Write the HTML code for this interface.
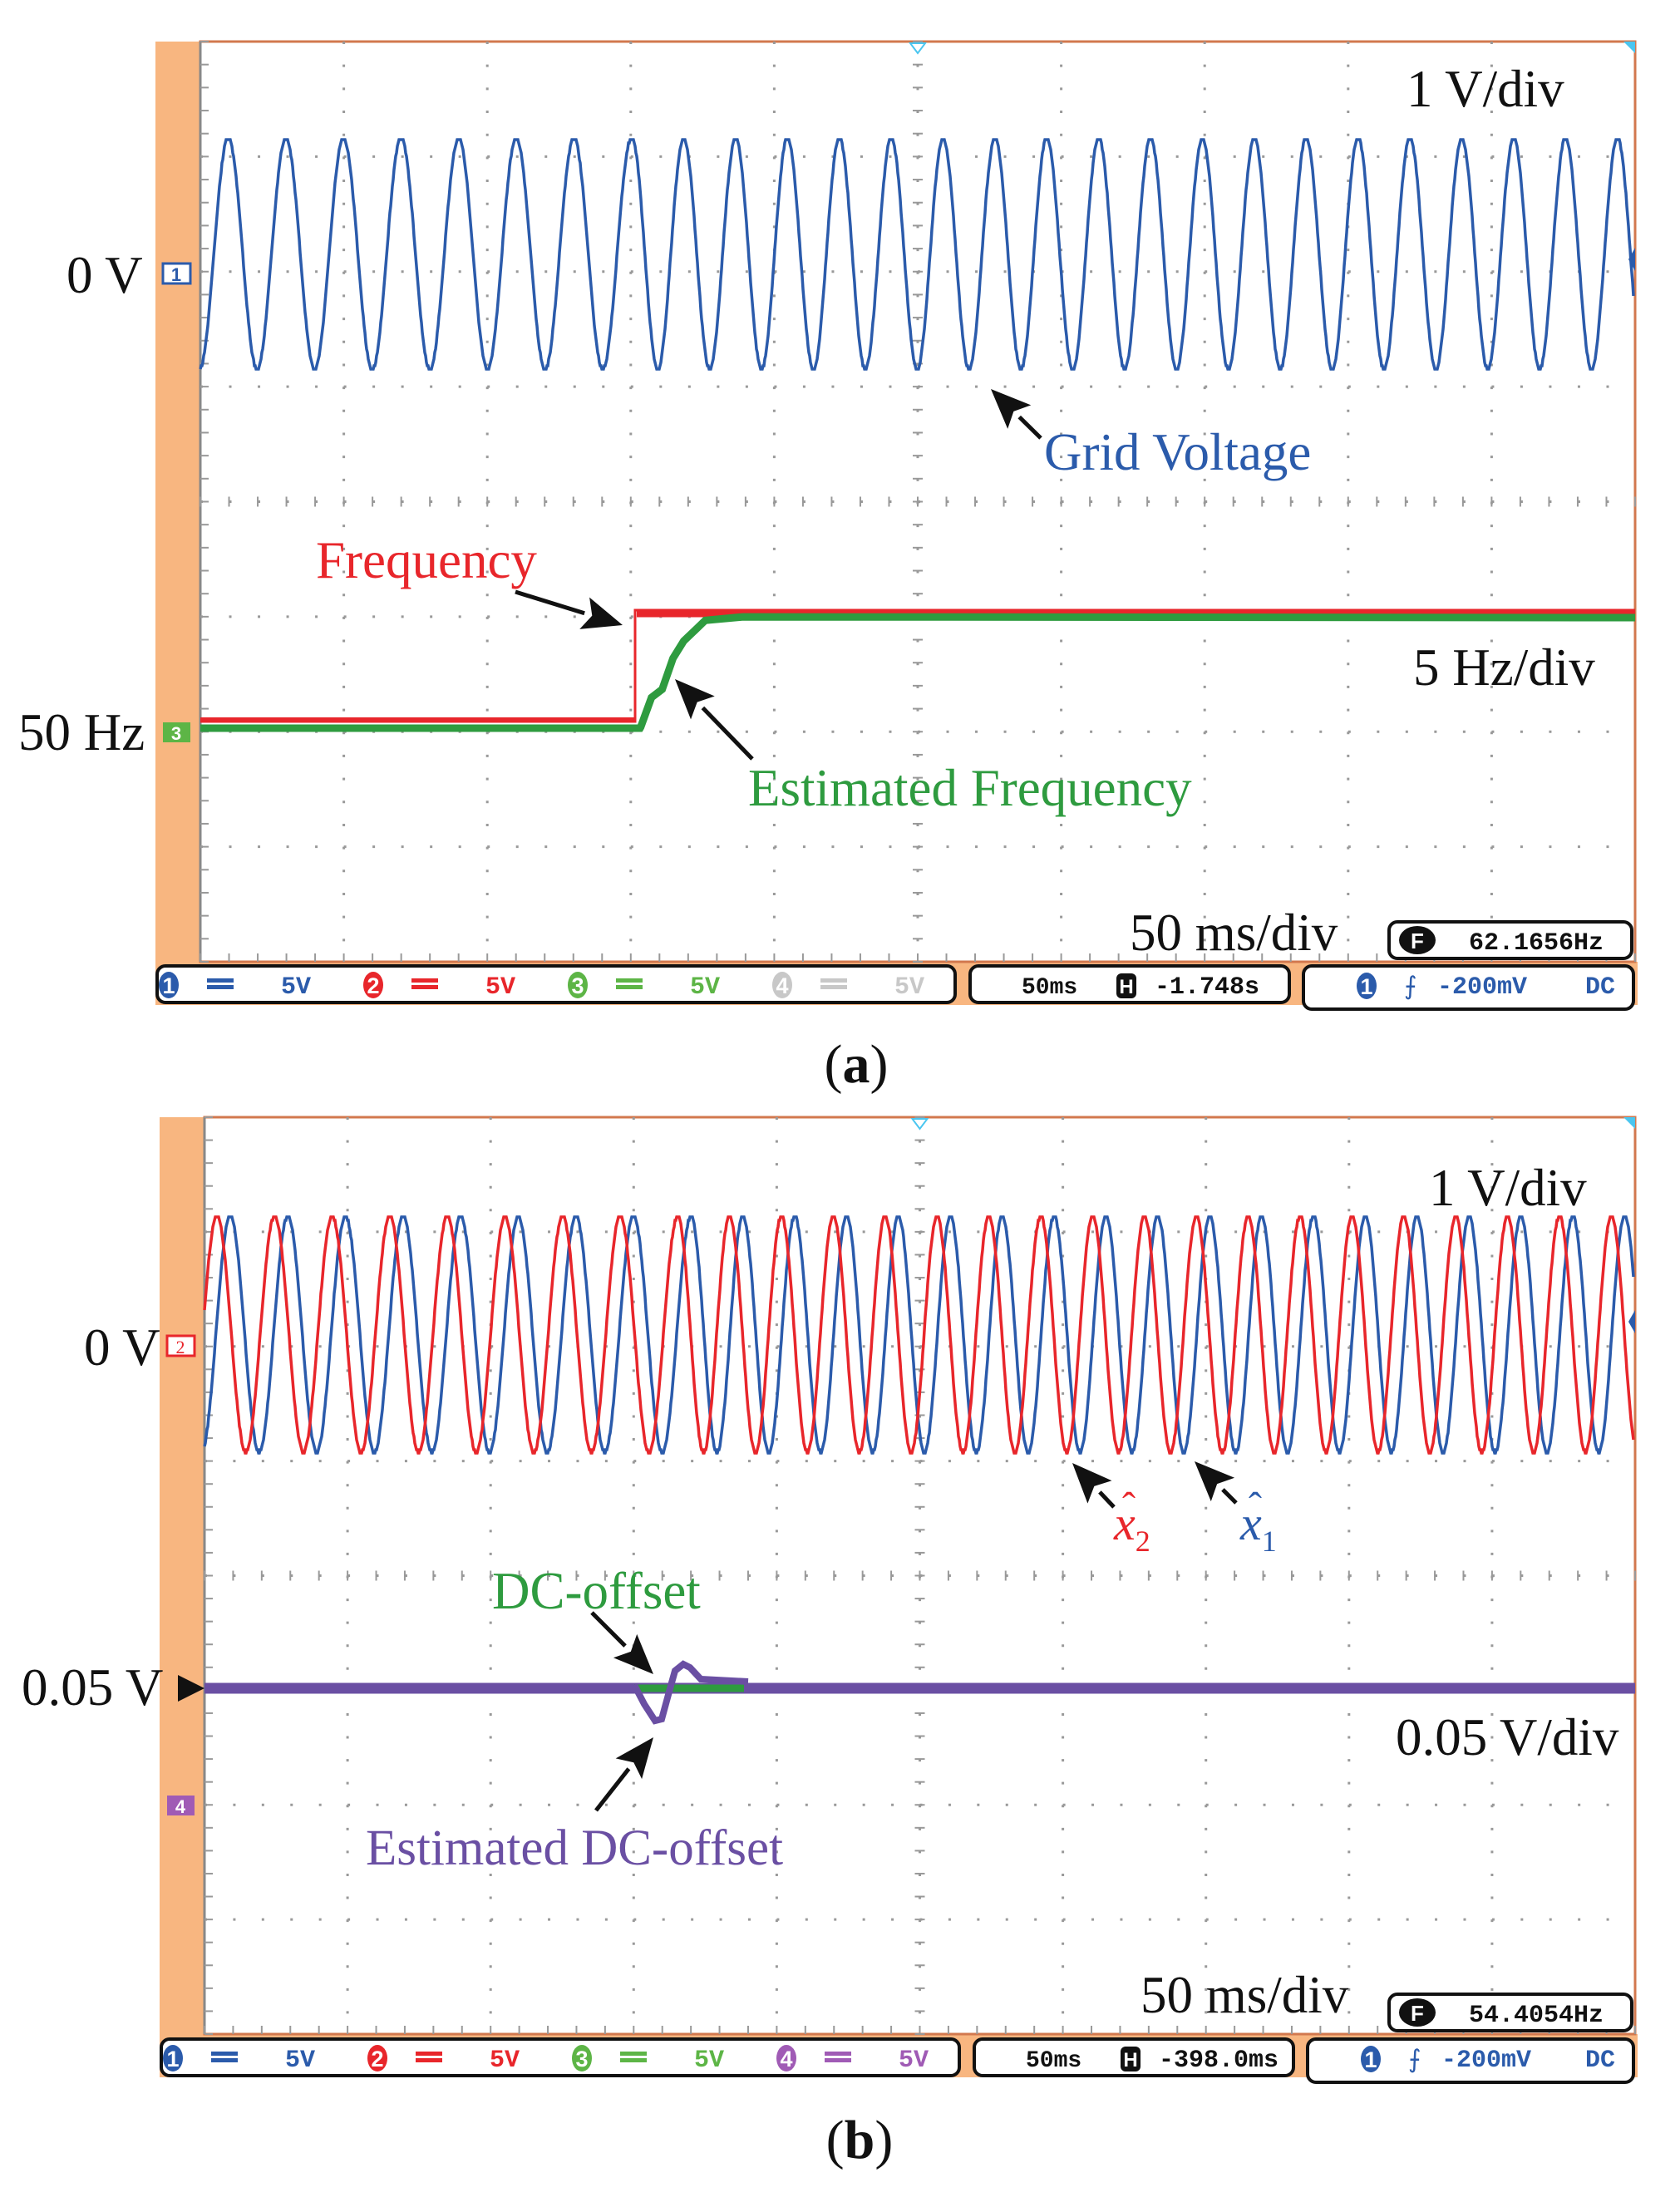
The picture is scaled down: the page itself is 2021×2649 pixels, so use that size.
<!DOCTYPE html>
<html><head><meta charset="utf-8">
<style>
html,body{margin:0;padding:0;background:#fff;}
body{width:2021px;height:2649px;position:relative;overflow:hidden;}
svg{position:absolute;left:0;top:0;}
</style></head>
<body>
<svg id="s" width="2021" height="2649" viewBox="0 0 2021 2649" xmlns="http://www.w3.org/2000/svg">
<g id="g"></g>
</svg>
<script>
var g=document.getElementById('g');var out='';
function panel(L,T,R,B,oL){
  var w=R-L,h=B-T,dx=w/10,dy=h/8;
  out+='<rect x="'+oL+'" y="'+T+'" width="'+(L-oL)+'" height="'+(B-T+52)+'" fill="#f8b680"/>';
  out+='<rect x="'+oL+'" y="'+(B)+'" width="'+(R-oL+3)+'" height="52" fill="#f8b680"/>';
  out+='<rect x="'+L+'" y="'+T+'" width="'+w+'" height="'+h+'" fill="#fff" stroke="#d2784e" stroke-width="3"/>';
  out+='<line x1="'+L+'" y1="'+T+'" x2="'+L+'" y2="'+B+'" stroke="#888" stroke-width="3"/>';
  for(var i=1;i<10;i++){var x=L+i*dx;out+='<line x1="'+x+'" y1="'+T+'" x2="'+x+'" y2="'+B+'" stroke="#999" stroke-width="3" stroke-dasharray="3 '+(dy/5-3)+'"/>';}
  for(var j=1;j<8;j++){var y=T+j*dy;out+='<line x1="'+L+'" y1="'+y+'" x2="'+R+'" y2="'+y+'" stroke="#999" stroke-width="3" stroke-dasharray="3 '+(dx/5-3)+'"/>';}
  var cy=T+4*dy,cx=L+5*dx;
  for(var k=0;k<=50;k++){var x=L+k*dx/5;out+='<line x1="'+x+'" y1="'+(cy-6)+'" x2="'+x+'" y2="'+(cy+6)+'" stroke="#999" stroke-width="2"/>';
    out+='<line x1="'+x+'" y1="'+(B-10)+'" x2="'+x+'" y2="'+B+'" stroke="#999" stroke-width="2"/>';}
  for(var k=0;k<=40;k++){var y=T+k*dy/5;out+='<line x1="'+(cx-6)+'" y1="'+y+'" x2="'+(cx+6)+'" y2="'+y+'" stroke="#999" stroke-width="2"/>';
    out+='<line x1="'+L+'" y1="'+y+'" x2="'+(L+10)+'" y2="'+y+'" stroke="#999" stroke-width="2"/>';}
  out+='<path d="M'+(cx-9)+' '+(T+2)+' L'+(cx+9)+' '+(T+2)+' L'+cx+' '+(T+14)+'Z" fill="none" stroke="#4ac6f0" stroke-width="2"/>';
  out+='<path d="M'+(R-14)+' '+T+' L'+R+' '+T+' L'+R+' '+(T+14)+'Z" fill="#4ac6f0"/>';
}
function sine(L,R,p0,xs,p1,p2,cy,A,col,shift){
  var d='';
  for(var x=L;x<=R;x+=1){
    var c;var xx=x+shift;
    if(xx<xs) c=(xx-p0)/p1; else c=(xs-p0)/p1+(xx-xs)/p2;
    var y=cy-A*Math.cos(2*Math.PI*c);
    y=Math.round(y/4)*4;
    d+=(x==L?'M':'L')+x+' '+y.toFixed(1);
  }
  out+='<path d="'+d+'" fill="none" stroke="'+col+'" stroke-width="3.5"/>';
}
function txt(x,y,s,col,size,anchor){out+='<text x="'+x+'" y="'+y+'" fill="'+col+'" font-family="Liberation Serif, serif" font-size="'+size+'"'+(anchor?' text-anchor="'+anchor+'"':'')+'>'+s+'</text>';}
function arrow(x0,y0,x1,y1){
  var a=Math.atan2(y1-y0,x1-x0),l=48,wd=20;
  var bx=x1-l*Math.cos(a),by=y1-l*Math.sin(a);
  var px=-Math.sin(a)*wd,py=Math.cos(a)*wd;
  out+='<line x1="'+x0+'" y1="'+y0+'" x2="'+bx+'" y2="'+by+'" stroke="#111" stroke-width="5"/>';
  out+='<path d="M'+x1+' '+y1+' L'+(bx+px)+' '+(by+py)+' L'+(bx+(x1-bx)*0.2)+' '+(by+(y1-by)*0.2)+' L'+(bx-px)+' '+(by-py)+'Z" fill="#111"/>';
}
function mono(x,y,s,col,size){out+='<text x="'+x+'" y="'+y+'" fill="'+col+'" font-family="Liberation Mono, monospace" font-weight="bold" font-size="'+(size||28)+'">'+s+'</text>';}
function circ(x,y,n,col){out+='<ellipse cx="'+x+'" cy="'+y+'" rx="12" ry="16" fill="'+col+'"/><text x="'+x+'" y="'+(y+10)+'" fill="#fff" font-family="Liberation Sans, sans-serif" font-weight="bold" font-size="27" text-anchor="middle">'+n+'</text>';}
function status(T,L,R,ch4col,hval,fval,B){
  out+='<rect x="'+L+'" y="'+T+'" width="960" height="44" rx="10" fill="#fff" stroke="#111" stroke-width="4"/>';
  out+='<rect x="'+(L+978)+'" y="'+T+'" width="384" height="44" rx="10" fill="#fff" stroke="#111" stroke-width="4"/>';
  out+='<rect x="'+(L+1379)+'" y="'+T+'" width="'+(R-2-(L+1379))+'" height="52" rx="10" fill="#fff" stroke="#111" stroke-width="4"/>';
  var cols=['#2b5bab','#e8262b','#5db546',ch4col];
  for(var i=0;i<4;i++){var x=L+14+i*246;circ(x,T+23,i+1,cols[i]);
    out+='<rect x="'+(x+46)+'" y="'+(T+15)+'" width="32" height="5" fill="'+cols[i]+'"/><rect x="'+(x+46)+'" y="'+(T+23)+'" width="32" height="5" fill="'+cols[i]+'"/>';
    mono(x+135,T+33,'5V',cols[i],30);}
  mono(L+1040,T+33,'50ms','#111',28);
  out+='<rect x="'+(L+1154)+'" y="'+(T+9)+'" width="24" height="30" rx="6" fill="#111"/><text x="'+(L+1166)+'" y="'+(T+33)+'" fill="#fff" font-family="Liberation Sans, sans-serif" font-weight="bold" font-size="24" text-anchor="middle">H</text>';
  mono(L+1200,T+33,hval,'#111',30);
  circ(L+1455,T+24,1,'#2b5bab');
  out+='<text x="'+(L+1500)+'" y="'+(T+34)+'" fill="#2b5bab" font-family="DejaVu Sans, sans-serif" font-size="30">&#x2A0D;</text>';
  mono(L+1540,T+33,'-200mV','#2b5bab',30);
  mono(R-60,T+33,'DC','#2b5bab',30);
  out+='<rect x="'+(R-296)+'" y="'+(B-48)+'" width="292" height="44" rx="10" fill="#fff" stroke="#111" stroke-width="4"/>';
  out+='<ellipse cx="'+(R-262)+'" cy="'+(B-26)+'" rx="22" ry="17" fill="#111"/><text x="'+(R-262)+'" y="'+(B-16)+'" fill="#fff" font-family="Liberation Sans, sans-serif" font-weight="bold" font-size="26" text-anchor="middle">F</text>';
  mono(R-200,B-15,fval,'#111',30);
}
var FS=63;
// ===== Panel a =====
var La=241,Ta=50,Ra=1967,Ba=1157;
panel(La,Ta,Ra,Ba,187);
sine(La,Ra-2,274.6,764,69.3,62.4,305,139,'#2b5bab',0);
out+='<path d="M'+La+' 868 L764 868 L764 734 L'+Ra+' 734" fill="none" stroke="#e8262b" stroke-width="3"/>';
out+='<line x1="'+La+'" y1="866" x2="764" y2="866" stroke="#e8262b" stroke-width="6"/>';
out+='<line x1="766" y1="738" x2="'+Ra+'" y2="738" stroke="#e8262b" stroke-width="9"/>';
var gp=[[595,1055],[605,1012],[615,1000],[625,955],[635,930],[645,915],[655,900],[690,895]];
var gd='M'+La+' 876 L770 876';gp.forEach(function(p){gd+=' L'+(p[0]/0.772).toFixed(1)+' '+(p[1]/1.206).toFixed(1);});gd+=' L'+Ra+' 743';
out+='<path d="'+gd+'" fill="none" stroke="#2e9b3f" stroke-width="9"/>';
txt(1692,128,'1 V/div','#111',FS);
txt(80,352,'0 V','#111',FS);
out+='<rect x="196" y="317" width="33" height="24" fill="#fff" stroke="#2b5bab" stroke-width="3"/><text x="212" y="338" fill="#2b5bab" font-family="Liberation Sans, sans-serif" font-weight="bold" font-size="22" text-anchor="middle">1</text>';
txt(1256,565,'Grid Voltage','#2b5bab',FS);
arrow(1252,527,1192,468);
txt(380,695,'Frequency','#e8262b',FS);
arrow(620,712,749,752);
txt(1700,824,'5 Hz/div','#111',FS);
txt(22,902,'50 Hz','#111',FS);
out+='<rect x="196" y="869" width="33" height="24" fill="#5db546"/><text x="212" y="890" fill="#fff" font-family="Liberation Sans, sans-serif" font-weight="bold" font-size="22" text-anchor="middle">3</text>';
txt(900,969,'Estimated Frequency','#2e9b3f',FS);
arrow(905,913,812,817);
txt(1359,1143,'50 ms/div','#111',FS);
out+='<path d="M'+(Ra-8)+' 312 L'+Ra+' 298 L'+Ra+' 326Z" fill="#2b5bab"/>';
status(1162,189,Ra,'#c8c8c8','-1.748s','62.1656Hz',Ba);
out+='<text x="1030" y="1302" fill="#111" font-family="Liberation Serif, serif" font-size="66" text-anchor="middle">(<tspan font-weight="bold">a</tspan>)</text>';
// ===== Panel b =====
var Lb=246,Tb=1344,Rb=1967,Bb=2447;
panel(Lb,Tb,Rb,Bb,192);
sine(Lb,Rb-2,277,830,69.3,62.4,1605,142,'#2b5bab',0);
sine(Lb,Rb-2,277,830,69.3,62.4,1605,142,'#e8262b',16);
out+='<line x1="'+Lb+'" y1="2031" x2="'+Rb+'" y2="2031" stroke="#6a4fa3" stroke-width="13"/>';
out+='<line x1="763" y1="2031" x2="895" y2="2031" stroke="#2e9b3f" stroke-width="9"/>';
out+='<path d="M763 2027 L775 2050 L788 2070 L796 2068 L805 2035 L812 2010 L822 2002 L830 2006 L843 2020 L900 2023" fill="none" stroke="#6a4fa3" stroke-width="8"/>';
txt(1719,1450,'1 V/div','#111',FS);
txt(101,1642,'0 V','#111',FS);
out+='<rect x="201" y="1607" width="33" height="24" fill="#fff" stroke="#e8262b" stroke-width="3"/><text x="217" y="1628" fill="#e8262b" font-family="Liberation Serif, serif" font-size="22" text-anchor="middle">2</text>';
out+='<text x="1340" y="1852" fill="#e8262b" font-family="Liberation Serif, serif" font-style="italic" font-size="58">x<tspan font-size="36" dy="14" font-style="normal">2</tspan></text><text x="1350" y="1828" fill="#e8262b" font-family="Liberation Serif, serif" font-size="48">&#x02C6;</text>';
out+='<text x="1492" y="1852" fill="#2b5bab" font-family="Liberation Serif, serif" font-style="italic" font-size="58">x<tspan font-size="36" dy="14" font-style="normal">1</tspan></text><text x="1502" y="1828" fill="#2b5bab" font-family="Liberation Serif, serif" font-size="48">&#x02C6;</text>';
arrow(1340,1813,1290,1760);
arrow(1487,1808,1437,1758);
txt(592,1935,'DC-offset','#2e9b3f',FS);
arrow(712,1940,786,2014);
txt(26,2051,'0.05 V','#111',FS);
out+='<path d="M214 2015 L246 2031 L214 2047Z" fill="#111"/>';
txt(1679,2111,'0.05 V/div','#111',FS);
arrow(717,2178,786,2090);
out+='<rect x="201" y="2160" width="33" height="24" fill="#a05bb5"/><text x="217" y="2181" fill="#fff" font-family="Liberation Sans, sans-serif" font-weight="bold" font-size="22" text-anchor="middle">4</text>';
txt(440,2243,'Estimated DC-offset','#6a4fa3',61);
txt(1372,2421,'50 ms/div','#111',FS);
out+='<path d="M'+(Rb-8)+' 1590 L'+Rb+' 1576 L'+Rb+' 1604Z" fill="#2b5bab"/>';
status(2453,194,Rb,'#a05bb5','-398.0ms','54.4054Hz',Bb);
out+='<text x="1034" y="2596" fill="#111" font-family="Liberation Serif, serif" font-size="66" text-anchor="middle">(<tspan font-weight="bold">b</tspan>)</text>';
g.innerHTML=out;
</script>
</body></html>
